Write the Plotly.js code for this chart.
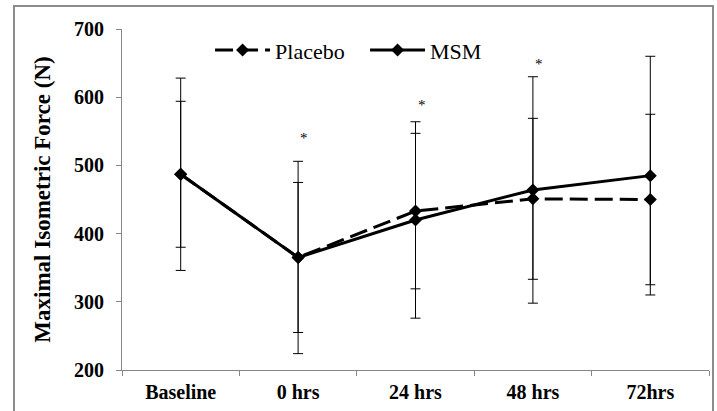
<!DOCTYPE html>
<html>
<head>
<meta charset="utf-8">
<script src="https://cdn.plot.ly/plotly-3.0.1.min.js"></script>
<style>html,body{margin:0;padding:0;background:#fff;}#chart{width:717px;height:411px;}</style>
</head>
<body>
<div id="chart"></div>
<script>
const categories = ['Baseline', '0 hrs', '24 hrs', '48 hrs', '72hrs'];
const placebo = [487, 365, 433, 451, 450];
const placeboErr = [107, 110, 114, 118, 125];
const msm = [487, 365, 420, 464, 485];
const msmErr = [141, 141, 144, 166, 175];
const starCats = ['0 hrs', '24 hrs', '48 hrs'];
const starVals = [543, 592, 652];
const yTicks = [200, 300, 400, 500, 600, 700];

const serif = 'Liberation Serif, Times New Roman, serif';

const traces = [
  {
    x: categories, y: placebo, name: 'Placebo', type: 'scatter', mode: 'lines+markers',
    line: {color: '#000', width: 3, dash: '18px,7px'},
    marker: {symbol: 'diamond', size: 10, color: '#000'},
    error_y: {type: 'data', array: placeboErr, visible: true, color: '#000', thickness: 1, width: 5}
  },
  {
    x: categories, y: msm, name: 'MSM', type: 'scatter', mode: 'lines+markers',
    line: {color: '#000', width: 3},
    marker: {symbol: 'diamond', size: 10, color: '#000'},
    error_y: {type: 'data', array: msmErr, visible: true, color: '#000', thickness: 1, width: 5}
  }
];

const annotations = starCats.map((c, i) => ({
  x: c, y: starVals[i], xref: 'x', yref: 'y', text: '*', showarrow: false,
  xshift: 6, yshift: -2, font: {family: serif, size: 15, color: '#000'}
}));

const layout = {
  width: 717, height: 411,
  margin: {l: 122, r: 8, t: 29, b: 41},
  paper_bgcolor: '#fff', plot_bgcolor: '#fff',
  showlegend: true,
  legend: {
    orientation: 'h', x: 0.150, xanchor: 'left', y: 0.938, yanchor: 'middle',
    bgcolor: 'rgba(0,0,0,0)', font: {family: serif, size: 22, color: '#000'},
    itemwidth: 55, entrywidth: 85, traceorder: 'normal'
  },
  xaxis: {
    type: 'category', range: [-0.5, 4.5],
    showline: true, linecolor: '#868686', linewidth: 1,
    ticks: 'outside', tickson: 'boundaries', ticklen: 5, tickcolor: '#868686',
    showgrid: false, zeroline: false,
    tickfont: {family: serif, size: 20, color: '#000', weight: 700},
    ticklabelstandoff: 4
  },
  yaxis: {
    range: [200, 700], tickvals: yTicks,
    showline: true, linecolor: '#868686', linewidth: 1,
    ticks: 'outside', ticklen: 5, tickcolor: '#868686',
    showgrid: false, zeroline: false,
    tickfont: {family: serif, size: 20, color: '#000', weight: 700},
    ticklabelstandoff: 8,
    title: {text: 'Maximal Isometric Force (N)', font: {family: serif, size: 23, color: '#000', weight: 700}, standoff: 16}
  },
  annotations: annotations,
  shapes: [{
    type: 'rect', xref: 'paper', yref: 'paper',
    x0: -0.184, x1: 1.0068, y0: -0.2, y1: 1.0674,
    line: {color: '#8c8c8c', width: 2}, fillcolor: 'rgba(0,0,0,0)', layer: 'below'
  }]
};

Plotly.newPlot('chart', traces, layout, {displayModeBar: false, staticPlot: true});
</script>
</body>
</html>
